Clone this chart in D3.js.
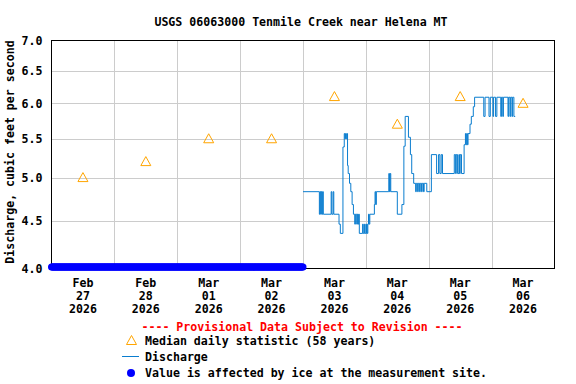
<!DOCTYPE html>
<html><head><meta charset="utf-8">
<script src="https://cdn.jsdelivr.net/npm/d3@7"></script>
<style>
body{margin:0;background:#fff}
svg{display:block}
text{font-family:"DejaVu Sans Mono",monospace;font-weight:bold;font-size:11.6px;fill:#000}
</style>
</head><body>
<svg id="c" width="576" height="384"></svg>
<script>
const title = "USGS 06063000 Tenmile Creek near Helena MT";
const yLabel = "Discharge, cubic feet per second";
const days = ["2026-02-27","2026-02-28","2026-03-01","2026-03-02","2026-03-03","2026-03-04","2026-03-05","2026-03-06"];
const tickMonth = ["Feb","Feb","Mar","Mar","Mar","Mar","Mar","Mar"];
const tickDay = ["27","28","01","02","03","04","05","06"];
const tickYear = ["2026","2026","2026","2026","2026","2026","2026","2026"];
const medianValues = [5.0,5.2,5.5,5.5,6.1,5.7,6.1,6.0];
const yTicks = [4.0,4.5,5.0,5.5,6.0,6.5,7.0];
const dischargeStart = "2026-03-03T00:00:00Z";
const dischargeHours = [0,6.25,6.5,6.75,7,7.25,7.5,7.75,10.75,11,11.5,11.75,13.75,14.25,15.25,15.75,16,16.25,16.5,16.75,17,17.25,17.75,18.25,18.75,19.25,19.75,20,20.5,20.75,21,21.25,21.5,22.75,23,23.5,23.75,24.25,24.5,24.75,25,25.25,25.5,27.25,27.5,27.75,28,32.75,33,33.25,33.5,36,37.75,38.5,39,40.25,41,41.5,42.25,43,43.25,43.75,44,44.5,44.75,45.25,45.5,46,46.25,47.25,49,51,51.75,52.25,52.75,53.25,57.75,58.25,58.5,59,59.5,59.75,60,60.5,61.5,62,62.25,62.5,62.75,63,63.75,64.25,65,65.5,69,69.5,71,71.5,72.5,72.75,73.5,74,75.5,75.75,76.25,76.5,78.25,78.5,79,79.25,79.75,80,80.5,81];
const dischargeValues = [4.83,4.57,4.83,4.57,4.83,4.57,4.83,4.57,4.83,4.57,4.83,4.57,4.46,4.36,5.39,5.57,5.5,5.57,5.5,5.57,5.15,5.05,4.93,4.83,4.68,4.57,4.46,4.57,4.46,4.57,4.46,4.57,4.36,4.46,4.36,4.46,4.36,4.46,4.36,4.46,4.57,4.46,4.57,4.68,4.83,4.68,4.83,5.05,4.83,5.05,4.83,4.57,4.68,5.4,5.81,5.52,5.29,5.05,4.93,4.83,4.93,4.83,4.93,4.83,4.93,4.83,4.93,4.83,4.93,4.83,5.29,5.05,5.29,5.05,5.29,5.05,5.29,5.05,5.29,5.05,5.29,5.05,5.29,5.05,5.42,5.57,5.42,5.57,5.42,5.57,5.7,5.81,5.95,6.09,5.81,6.09,5.81,6.09,5.81,6.09,5.81,6.09,5.81,6.09,5.81,6.09,5.81,6.09,5.81,6.09,5.81,6.09,5.81,5.81];
const iceStart = "2026-02-27T00:00:00Z";
const iceEnd = "2026-03-03T00:00:00Z";
const iceValue = 4.0;
const iceStepMinutes = 15;
const provisionalText = "---- Provisional Data Subject to Revision ----";
const legendLabels = ["Median daily statistic (58 years)","Discharge","Value is affected by ice at the measurement site."];

const svg = d3.select("#c");
const L = 51.5, R = 554.5, T = 40.5, B = 268.5;
const parse = d3.utcParse("%Y-%m-%d");
const x = d3.scaleUtc().domain([Date.UTC(2026,1,27), Date.UTC(2026,2,7)]).range([L, R]);
const y = d3.scaleLog().domain([4,7]).range([B, T]);

// grid
const gridDays = days.slice(1).map(parse);
svg.append("g").selectAll("line").data(gridDays).join("line")
  .attr("x1", d => Math.round(x(d)) + 0.5).attr("x2", d => Math.round(x(d)) + 0.5)
  .attr("y1", T).attr("y2", B).attr("stroke", "#cccccc").attr("stroke-width", 1);
svg.append("g").selectAll("line").data(yTicks.slice(1, -1)).join("line")
  .attr("x1", L).attr("x2", R)
  .attr("y1", d => Math.round(y(d)) + 0.5).attr("y2", d => Math.round(y(d)) + 0.5)
  .attr("stroke", "#cccccc").attr("stroke-width", 1);

// frame
svg.append("rect").attr("x", L).attr("y", T).attr("width", R - L).attr("height", B - T)
  .attr("fill", "none").attr("stroke", "#000").attr("stroke-width", 1);

// y axis labels
const yAxis = d3.axisLeft(y).tickValues(yTicks).tickFormat(d3.format(".1f")).tickSize(0).tickPadding(9);
const gy = svg.append("g").attr("transform", `translate(${L},0)`).call(yAxis);
gy.select(".domain").remove();
gy.selectAll("text").style("font-family", '"DejaVu Sans Mono",monospace').style("font-size", "11.6px").style("font-weight", "bold");

// x axis labels
const noon = days.map(d => new Date(parse(d).getTime() + 12*3600*1000));
const xl = svg.append("g");
noon.forEach((d, i) => {
  const t = xl.append("text").attr("x", x(d)).attr("text-anchor", "middle");
  t.append("tspan").attr("x", x(d)).attr("y", 286.5).text(tickMonth[i]);
  t.append("tspan").attr("x", x(d)).attr("y", 299.5).text(tickDay[i]);
  t.append("tspan").attr("x", x(d)).attr("y", 312.5).text(tickYear[i]);
});

// discharge
const t0 = new Date(dischargeStart).getTime();
const disData = dischargeHours.map((h, i) => ({t: new Date(t0 + h*3600*1000), v: dischargeValues[i]}));
svg.append("path").datum(disData)
  .attr("d", d3.line().x(d => x(d.t)).y(d => y(d.v)).curve(d3.curveStepAfter))
  .attr("fill", "none").attr("stroke", "#0a7dcf").attr("stroke-width", 1);

// ice points
const iceTimes = d3.utcMinute.every(iceStepMinutes).range(new Date(iceStart), new Date(new Date(iceEnd).getTime() + 1));
svg.append("g").selectAll("circle").data(iceTimes).join("circle")
  .attr("cx", d => x(d)).attr("cy", y(iceValue) - 1.5).attr("r", 3.5).attr("fill", "#0000ff");

// median triangles
const tri = "M0,-5L5,4L-5,4Z";
svg.append("g").selectAll("path").data(medianValues).join("path")
  .attr("transform", (v, i) => `translate(${x(noon[i])},${y(v)})`)
  .attr("d", tri).attr("fill", "none").attr("stroke", "#ffa500").attr("stroke-width", 1);

// title & y label
svg.append("text").attr("x", 301).attr("y", 26).attr("text-anchor", "middle").text(title);
svg.append("text").attr("transform", "translate(14,152) rotate(-90)").attr("text-anchor", "middle").text(yLabel);

// legend
svg.append("text").attr("x", 302).attr("y", 331).attr("text-anchor", "middle").style("fill", "#ff0000").text(provisionalText);
svg.append("path").attr("transform", "translate(131.5,340.5)").attr("d", tri).attr("fill", "none").attr("stroke", "#ffa500");
svg.append("text").attr("x", 145).attr("y", 345).text(legendLabels[0]);
svg.append("line").attr("x1", 122).attr("x2", 139).attr("y1", 356.5).attr("y2", 356.5).attr("stroke", "#0a7dcf");
svg.append("text").attr("x", 145).attr("y", 361).text(legendLabels[1]);
svg.append("circle").attr("cx", 131).attr("cy", 373).attr("r", 4).attr("fill", "#0000ff");
svg.append("text").attr("x", 145).attr("y", 377).text(legendLabels[2]);
</script>
</body></html>
